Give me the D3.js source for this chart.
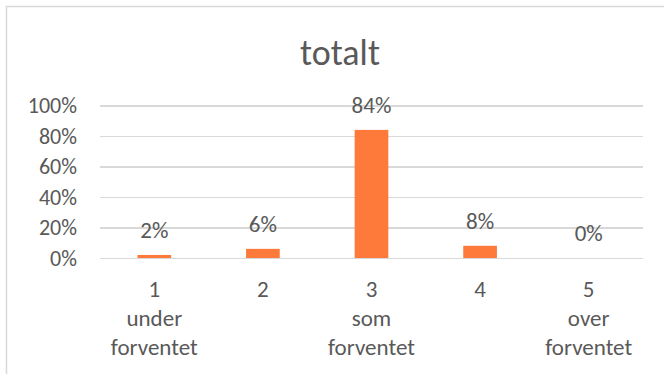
<html lang="no">
<head>
<meta charset="utf-8">
<title>totalt</title>
<script src="https://cdnjs.cloudflare.com/ajax/libs/d3/7.8.5/d3.min.js"></script>
<style>
  body { margin: 0; background: white; }
  svg { display: block; font-family: Carlito, Lato, "Open Sans", sans-serif; }
  .grid line { stroke: #d9d9d9; stroke-width: 1.5; shape-rendering: crispEdges; }
  .grid path { display: none; }
  .axis text, .label, .title { fill: #595959; }
</style>
</head>
<body>
<script>
var categories = ["1\nunder\nforventet", "2", "3\nsom\nforventet", "4", "5\nover\nforventet"];
var values = [2, 6, 84, 8, 0];
var yTicks = [0, 20, 40, 60, 80, 100];

var fullwidth = 664, fullheight = 374;
var margin = { top: 105.5, right: 21, bottom: 116, left: 100 };
var width = fullwidth - margin.left - margin.right;
var height = fullheight - margin.top - margin.bottom;

var svg = d3.select("body").append("svg")
    .attr("width", fullwidth)
    .attr("height", fullheight);

// chart frame (runs off the right and bottom edge)
svg.append("rect")
    .attr("x", 6.5).attr("y", 6.5)
    .attr("width", 700).attr("height", 400)
    .attr("fill", "white")
    .attr("stroke", "#d9d9d9")
    .attr("stroke-width", 1.5);

svg.append("text")
    .attr("class", "title")
    .attr("x", 340).attr("y", 65)
    .attr("text-anchor", "middle")
    .style("font-size", "36px")
    .text("totalt");

var g = svg.append("g")
    .attr("transform", "translate(" + margin.left + "," + margin.top + ")");

var x = d3.scaleBand().domain(d3.range(categories.length)).range([0, width]).paddingInner(0.69).paddingOuter(0.345);
var y = d3.scaleLinear().domain([0, 100]).range([height, 0]);

// gridlines
g.append("g")
    .attr("class", "grid")
    .call(d3.axisLeft(y).tickValues(yTicks).tickSize(-width).tickFormat(""));

// y labels
g.append("g")
    .attr("class", "axis")
    .selectAll("text")
    .data(yTicks)
    .enter().append("text")
    .attr("x", -23)
    .attr("y", function(d) { return y(d); })
    .attr("dy", "0.35em")
    .attr("text-anchor", "end")
    .style("font-size", "22px")
    .text(function(d) { return d + "%"; });

g.selectAll(".bar")
    .data(values)
    .enter().append("rect")
    .attr("class", "bar")
    .attr("x", function(d, i) { return x(i); })
    .attr("y", function(d) { return y(d); })
    .attr("width", x.bandwidth())
    .attr("height", function(d) { return height - y(d); })
    .attr("fill", "#fd7a3b");

g.selectAll(".label")
    .data(values)
    .enter().append("text")
    .attr("class", "label")
    .attr("x", function(d, i) { return x(i) + x.bandwidth() / 2; })
    .attr("y", function(d) { return y(d) - 17; })
    .attr("text-anchor", "middle")
    .style("font-size", "23px")
    .text(function(d) { return d + "%"; });

// category labels, several lines each
var cat = g.append("g")
    .attr("class", "axis")
    .selectAll("text")
    .data(categories)
    .enter().append("text")
    .attr("x", function(d, i) { return x(i) + x.bandwidth() / 2; })
    .attr("y", height + 39)
    .attr("text-anchor", "middle")
    .style("font-size", "23px");

cat.selectAll("tspan")
    .data(function(d) { return d.split("\n"); })
    .enter().append("tspan")
    .attr("x", function() { return d3.select(this.parentNode).attr("x"); })
    .attr("dy", function(d, i) { return i ? 29 : 0; })
    .text(function(d) { return d; });
</script>
</body>
</html>
